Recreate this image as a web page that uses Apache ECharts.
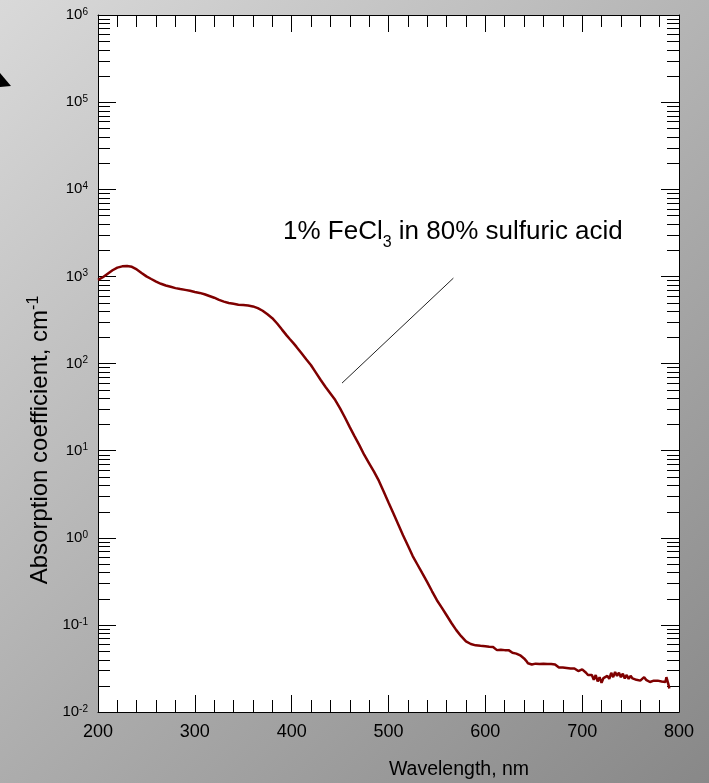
<!DOCTYPE html>
<html><head><meta charset="utf-8">
<script src="https://cdn.jsdelivr.net/npm/echarts@6/dist/echarts.min.js"></script>
<style>html,body{margin:0;padding:0;background:#fff;}#c{width:709px;height:783px;}</style>
</head><body><div id="c"></div>
<script>
const wavelength = [
 200,205,210,215,220,225,230,235,240,245,250,255,260,265,270,275,280,285,290,295,
 300,305,310,315,320,325,330,335,340,345,350,355,360,365,370,375,380,385,390,395,
 398,399,400,402,405,410,415,420,425,430,435,440,445,450,455,460,465,470,475,480,
 485,490,495,500,505,510,515,520,525,530,535,540,545,550,555,560,565,570,575,580,
 585,590,595,
 600,604,608,610,612,614,616,618,620,622,624,626,628,630,632,634,636,638,640,642,
 644,646,648,650,652,654,656,658,660,662,664,666,668,670,672,674,676,678,680,682,
 684,686,688,690,692,694,696,698,700,702,704,706,708,710,712,714,716,718,720,722,
 724,726,728,730,732,734,736,738,740,742,744,746,748,750,752,754,756,758,760,762,
 764,766,768,770,772,774,776,778,780,782,784,786,787,789,790
];
const absorption = [
 912,977,1072,1175,1259,1303,1318,1288,1202,1096,1000,933,871,822,785,759,733,716,700,684,
 661,646,624,596,569,537,513,495,484,473,468,462,452,432,403,367,331,288,245,209,
 191,195,182,170,155,132,112,95.5,78.5,64.6,53.7,45.2,38.0,30.5,24.0,18.6,14.6,11.5,8.91,7.16,
 5.75,4.52,3.39,2.54,1.91,1.43,1.07,0.813,0.617,0.490,0.389,0.309,0.243,0.192,0.158,0.129,0.105,0.0871,0.0741,0.0646,
 0.0603,0.0582,0.0575,
 0.0569,0.0562,0.0556,0.0537,0.0513,0.0501,0.0519,0.0507,0.0513,0.0501,0.0513,0.0495,0.0479,0.0484,0.0468,0.0457,0.0447,0.0427,0.0412,0.0389,
 0.0363,0.0347,0.0351,0.0363,0.0359,0.0347,0.0355,0.0351,0.0359,0.0363,0.0355,0.0359,0.0355,0.0363,0.0351,0.0335,0.0324,0.0331,0.0324,0.0327,
 0.0320,0.0324,0.0316,0.0313,0.0316,0.0305,0.0295,0.0302,0.0309,0.0299,0.0282,0.0266,0.0257,0.0266,0.0235,0.0266,0.0224,0.0251,0.0216,0.0245,
 0.0234,0.0260,0.0240,0.0282,0.0251,0.0288,0.0260,0.0282,0.0251,0.0275,0.0243,0.0266,0.0240,0.0260,0.0243,0.0251,0.0234,0.0243,0.0229,0.0237,
 0.0251,0.0234,0.0226,0.0221,0.0216,0.0229,0.0237,0.0229,0.0232,0.0224,0.0229,0.0221,0.0251,0.0209,0.0186
];
const xTickValues = [200,300,400,500,600,700,800];
const yDecadeExponents = [-2,-1,0,1,2,3,4,5,6];
const annotationLine = [[452, 59.6], [567, 955]];
const annotationParts = ['1% FeCl', '3', ' in 80% sulfuric acid'];
const xName = 'Wavelength, nm';
const yNameParts = ['Absorption coefficient, cm', '-1'];

const chart = echarts.init(document.getElementById('c'), null, {renderer: 'canvas'});
const lineData = wavelength.map((w, i) => [w, absorption[i]]);
const minorData = [];
for (let i = 0; i < yDecadeExponents.length - 1; i++) {
  for (let k = 2; k <= 9; k++) minorData.push([xTickValues[0], k * Math.pow(10, yDecadeExponents[i])]);
}
const FONT = 'Liberation Sans, Arial, Helvetica, sans-serif';

const yLabelFmt = v => {
  const e = Math.round(Math.log10(v));
  return '{b|10}{p|' + e + '}';
};

const xAxisBase = {
  type: 'value', min: 200, max: 800, interval: 100,
  axisLine: {show: true, onZero: false, lineStyle: {color: '#000', width: 1}},
  axisTick: {show: true, inside: true, length: 17, lineStyle: {color: '#000', width: 1}},
  minorTick: {show: true, splitNumber: 5, length: 12, lineStyle: {color: '#000', width: 1}},
  splitLine: {show: false}, minorSplitLine: {show: false}
};
const yAxisBase = {
  type: 'log', logBase: 10, min: 0.01, max: 1000000,
  axisLine: {show: true, onZero: false, lineStyle: {color: '#000', width: 1}},
  axisTick: {show: true, inside: true, length: 18, lineStyle: {color: '#000', width: 1}},
  minorTick: {show: false},
  splitLine: {show: false}
};

chart.setOption({
  animation: false,
  backgroundColor: new echarts.graphic.LinearGradient(0, 0, 1, 1, [
    {offset: 0, color: '#d9d9d9'}, {offset: 1, color: '#888888'}
  ]),
  grid: {left: 98, top: 15, right: 30, bottom: 71, show: true, backgroundColor: '#ffffff', borderWidth: 0},
  xAxis: [
    Object.assign({}, xAxisBase, {position: 'bottom',
      axisLabel: {show: true, fontSize: 18, color: '#000', margin: 11, fontFamily: FONT}}),
    Object.assign({}, xAxisBase, {position: 'top', axisLabel: {show: false}})
  ],
  yAxis: [
    Object.assign({}, yAxisBase, {position: 'left',
      axisLabel: {show: true, margin: 10, formatter: yLabelFmt, color: '#000',
        rich: {
          b: {fontSize: 15, lineHeight: 16, fontFamily: FONT, color: '#000'},
          p: {fontSize: 10, lineHeight: 12, verticalAlign: 'top', fontFamily: FONT, color: '#000'}
        }}}),
    Object.assign({}, yAxisBase, {position: 'right', axisLabel: {show: false}})
  ],
  series: [
    {
      type: 'line', xAxisIndex: 0, yAxisIndex: 0, data: lineData,
      showSymbol: false, symbol: 'none', smooth: false,
      lineStyle: {color: '#7f0000', width: 2.5},
      z: 5,
      markLine: {
        silent: true, symbol: 'none', label: {show: false},
        lineStyle: {color: '#222', width: 1, type: 'solid'},
        data: [[{coord: annotationLine[0]}, {coord: annotationLine[1]}]]
      }
    },
    {
      type: 'custom', xAxisIndex: 0, yAxisIndex: 0, data: minorData, silent: true, clip: false, z: 4,
      renderItem: (params, api) => {
        const p = api.coord([api.value(0), api.value(1)]);
        const cs = params.coordSys;
        const y = Math.round(p[1]) + 0.5;
        return {type: 'group', children: [
          {type: 'line', shape: {x1: cs.x, y1: y, x2: cs.x + 12, y2: y}, style: {stroke: '#000', lineWidth: 1}},
          {type: 'line', shape: {x1: cs.x + cs.width - 12, y1: y, x2: cs.x + cs.width, y2: y}, style: {stroke: '#000', lineWidth: 1}}
        ]};
      }
    }
  ],
  graphic: [
    {type: 'polygon', shape: {points: [[0, 73], [11, 86], [0, 87]]}, style: {fill: '#000'}},
    {type: 'text', left: 283, top: 219, z: 10,
      style: {
        text: '{a|' + annotationParts[0] + '}{s|' + annotationParts[1] + '}{a|' + annotationParts[2] + '}',
        rich: {
          a: {fontSize: 26, lineHeight: 37, fontFamily: FONT, fill: '#000'},
          s: {fontSize: 16, lineHeight: 16, verticalAlign: 'bottom', fontFamily: FONT, fill: '#000'}
        }
      }},
    {type: 'text', x: 459, y: 770, z: 10,
      style: {text: xName, fontSize: 19.5, fontFamily: FONT, fill: '#000', align: 'center', verticalAlign: 'middle'}},
    {type: 'text', x: 40, y: 440, rotation: Math.PI / 2, z: 10,
      style: {
        text: '{n|' + yNameParts[0] + '}{p|' + yNameParts[1] + '}',
        align: 'center', verticalAlign: 'middle',
        rich: {
          n: {fontSize: 24, lineHeight: 28, fontFamily: FONT, fill: '#000'},
          p: {fontSize: 16, lineHeight: 16, verticalAlign: 'top', fontFamily: FONT, fill: '#000'}
        }
      }}
  ]
});
</script></body></html>
